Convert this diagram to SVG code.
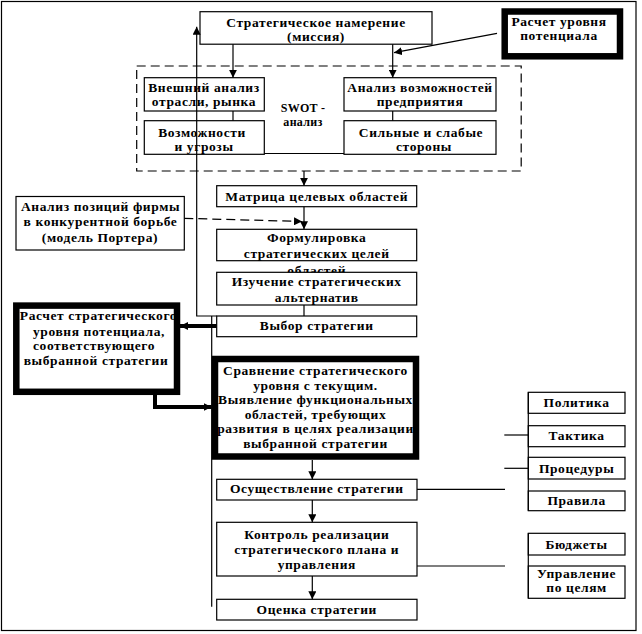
<svg xmlns="http://www.w3.org/2000/svg" width="642" height="634" viewBox="0 0 642 634">
<defs>
<marker id="ah" viewBox="0 0 8 8" refX="8" refY="4" markerWidth="8" markerHeight="8" markerUnits="userSpaceOnUse" orient="auto">
<path d="M0,0 L8,4 L0,8 z" fill="#000"/>
</marker>
</defs>
<style>
.bx{fill:#fff;stroke:#000;stroke-width:1.2}
.tk{fill:#fff;stroke:#000;stroke-width:6.5}
.t{font-family:"Liberation Serif","Times New Roman",serif;font-weight:bold;font-size:13.5px;letter-spacing:0.6px;fill:#000;text-anchor:middle}
.s{font-size:12px;letter-spacing:0.3px}
.ln{fill:none;stroke:#000;stroke-width:1.2}
.ar{fill:none;stroke:#000;stroke-width:1.2;marker-end:url(#ah)}
.da{stroke-dasharray:9,5}
.th{fill:none;stroke:#000;stroke-width:4;marker-end:url(#ah)}
</style>
<rect x="1.5" y="1.5" width="634.5" height="629" fill="#fff" stroke="#000" stroke-width="1.2"/>

<g id="mission"><rect class="bx" x="200" y="11.7" width="232" height="32.5"/>
<text class="t" x="316" y="26.5">Стратегическое намерение</text><text class="t" x="316" y="40.5">(миссия)</text></g>

<g id="potential"><rect class="tk" x="504.7" y="11.5" width="115.3" height="44.8"/>
<text class="t" x="559" y="25.5">Расчет уровня</text><text class="t" x="559" y="39.5">потенциала</text></g>

<g id="swot"><rect x="136.7" y="66" width="384.5" height="105" fill="none" stroke="#000" stroke-width="1.2" stroke-dasharray="9,5"/>
<text class="t s" x="303" y="112">SWOT -</text><text class="t s" x="303" y="126">анализ</text></g>

<g id="external"><rect class="bx" x="144.3" y="77.7" width="120" height="33.3"/>
<text class="t" x="204" y="92.3">Внешний анализ</text><text class="t" x="204" y="106.3">отрасли, рынка</text></g>

<g id="internal"><rect class="bx" x="344" y="77.7" width="152" height="33.3"/>
<text class="t" x="420" y="92">Анализ возможностей</text><text class="t" x="420" y="106">предприятия</text></g>

<g id="opportunities"><rect class="bx" x="144.3" y="120.7" width="120" height="33.6"/>
<text class="t" x="202" y="136.5">Возможности</text><text class="t" x="204" y="150.5">и угрозы</text></g>

<g id="strengths"><rect class="bx" x="344" y="120.7" width="152" height="33.6"/>
<text class="t" x="421" y="136.5">Сильные и слабые</text><text class="t" x="424" y="150.5">стороны</text></g>

<g id="matrix"><rect class="bx" x="216.7" y="185.7" width="200" height="21"/>
<text class="t" x="316.7" y="200.5">Матрица целевых областей</text></g>

<g id="porter"><rect class="bx" x="16" y="196.5" width="168.3" height="53.5"/>
<text class="t" x="100.5" y="211">Анализ позиций фирмы</text><text class="t" x="100.5" y="226">в конкурентной борьбе</text><text class="t" x="100" y="241.5">(модель Портера)</text></g>

<g id="goals"><rect class="bx" x="216.7" y="229.3" width="200" height="31.4"/>
<text class="t" x="316.7" y="241.5">Формулировка</text><text class="t" x="316.7" y="257.5">стратегических целей</text><text class="t" x="316.7" y="274.5">областей</text></g>

<g id="alternatives"><rect class="bx" x="216.7" y="272.3" width="200" height="32.7"/>
<text class="t" x="316.7" y="285.5">Изучение стратегических</text><text class="t" x="316.7" y="301.5">альтернатив</text></g>

<g id="choice"><rect class="bx" x="216.7" y="316" width="200" height="20.7"/>
<text class="t" x="316.7" y="330">Выбор стратегии</text></g>

<g id="calc"><rect class="tk" x="16.3" y="305.6" width="160.7" height="86.2"/>
<text class="t" x="98.5" y="320">Расчет стратегического</text><text class="t" x="99" y="335.5">уровня потенциала,</text><text class="t" x="94" y="350">соответствующего</text><text class="t" x="96" y="364.5">выбранной стратегии</text></g>

<g id="compare"><rect class="tk" x="215" y="359" width="201" height="97.5"/>
<text class="t" x="315.5" y="375">Сравнение стратегического</text><text class="t" x="315.5" y="389.5">уровня с  текущим.</text><text class="t" x="315.5" y="404">Выявление функциональных</text><text class="t" x="315.5" y="418.5">областей, требующих</text><text class="t" x="315.5" y="433">развития в целях реализации</text><text class="t" x="315.5" y="447.5">выбранной стратегии</text></g>

<g id="implement"><rect class="bx" x="216.7" y="479.3" width="200.3" height="20.7"/>
<text class="t" x="316.8" y="493">Осуществление стратегии</text></g>

<g id="control"><rect class="bx" x="216.7" y="522.3" width="200.3" height="53.7"/>
<text class="t" x="316.8" y="539">Контроль реализации</text><text class="t" x="316.8" y="554">стратегического плана и</text><text class="t" x="316.8" y="568.5">управления</text></g>

<g id="evaluate"><rect class="bx" x="216.7" y="599.3" width="200.3" height="20.7"/>
<text class="t" x="316.8" y="614">Оценка стратегии</text></g>

<g id="policy"><rect class="bx" x="528.3" y="392.3" width="96.7" height="21"/>
<text class="t" x="576.6" y="407">Политика</text></g>
<g id="tactics"><rect class="bx" x="528.3" y="425.7" width="96.7" height="21"/>
<text class="t" x="576.6" y="440">Тактика</text></g>
<g id="procedures"><rect class="bx" x="528.3" y="457.3" width="96.7" height="21.7"/>
<text class="t" x="576.6" y="472.5">Процедуры</text></g>
<g id="rules"><rect class="bx" x="528.3" y="491" width="96.7" height="19.7"/>
<text class="t" x="576.6" y="505">Правила</text></g>
<g id="budgets"><rect class="bx" x="528.3" y="533.3" width="96.7" height="21.7"/>
<text class="t" x="576.6" y="548.5">Бюджеты</text></g>
<g id="mbo"><rect class="bx" x="528.3" y="566" width="96.7" height="32.3"/>
<text class="t" x="576.6" y="578">Управление</text><text class="t" x="576.6" y="592">по целям</text></g>

<g id="connectors">
<line class="ar" x1="233" y1="44.2" x2="233" y2="77.7"/>
<line class="ar" x1="392.7" y1="44.2" x2="392.7" y2="77.7"/>
<line class="ar" x1="497" y1="33.3" x2="394" y2="52.7"/>
<line class="ln" x1="233" y1="111" x2="233" y2="120.7"/>
<line class="ln" x1="392.7" y1="111" x2="392.7" y2="120.7"/>
<line class="ln" x1="264.3" y1="153.5" x2="344" y2="153.5"/>
<line class="ar" x1="304" y1="171" x2="304" y2="185.7"/>
<line class="ar" x1="304" y1="206.7" x2="304" y2="229.3"/>
<line class="ar da" x1="184.3" y1="218.3" x2="302" y2="221.5"/>
<line class="ln" x1="304" y1="305" x2="304" y2="316"/>
<path class="ar" d="M216.7,316 H196.7 V26.7"/>
<line class="ln" x1="211.7" y1="316" x2="211.7" y2="606.7"/>
<line class="th" x1="216.7" y1="326" x2="180" y2="326"/>
<path class="th" d="M155,392 V407 H211.7"/>
<line class="ar" x1="312.3" y1="460" x2="312.3" y2="479.3"/>
<line class="ar" x1="312.3" y1="500" x2="312.3" y2="522.3"/>
<line class="ar" x1="312.3" y1="576" x2="312.3" y2="599.3"/>
<line class="ln" x1="417" y1="489.3" x2="505" y2="489.3"/>
<line class="ln" x1="417" y1="566" x2="505" y2="566"/>
<line class="ln" x1="504.3" y1="435" x2="528.3" y2="435"/>
<line class="ln" x1="504.3" y1="468.3" x2="528.3" y2="468.3"/>
<line class="ln" x1="528.3" y1="392.3" x2="528.3" y2="510.7"/>
<line class="ln" x1="528.3" y1="533.3" x2="528.3" y2="598.3"/>
</g>
</svg>
